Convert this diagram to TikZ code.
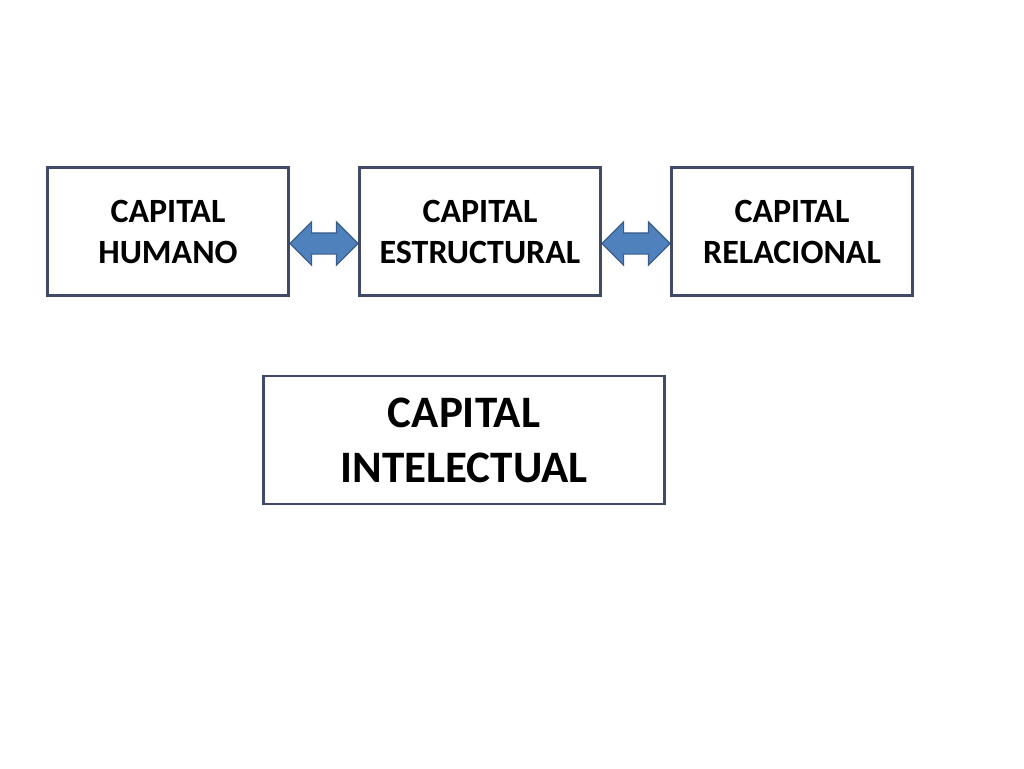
\documentclass[tikz,border=0pt]{standalone}
\usepackage{fontspec}
\setmainfont{Carlito}
\usetikzlibrary{shapes.arrows}
\usetikzlibrary{calc}
\definecolor{boxline}{HTML}{3E4A66}
\definecolor{arrowfill}{HTML}{4F81BD}
\definecolor{arrowline}{HTML}{385D8A}

\begin{document}
\begin{tikzpicture}
[x=1pt, y=-1pt,
 every node/.style={inner sep=0pt},
 capbox/.style={rectangle, draw=boxline, line width=2.5pt, fill=white, minimum width=241pt, minimum height=128pt, align=center, font=\fontsize{34}{41}\selectfont\bfseries},
 bigbox/.style={capbox, minimum width=401pt, font=\fontsize{45}{55}\selectfont\bfseries},
 twoway/.style={double arrow, fill=arrowfill, draw=arrowline, line width=1.2pt, inner xsep=0pt, inner ysep=10pt, double arrow head extend=11pt, minimum height=68pt}]
\useasboundingbox (0,0) rectangle (1024,768);
\node (humano) [capbox] at (168, 231.5) {CAPITAL\\HUMANO};
\node (estructural) [capbox] at (480, 231.5) {CAPITAL\\ESTRUCTURAL};
\node (relacional) [capbox] at (792, 231.5) {CAPITAL\\RELACIONAL};
\node (intelectual) [bigbox] at (464, 440) {CAPITAL\\INTELECTUAL};
\node (a1) [twoway] at ($(humano.east)!0.5!(estructural.west) + (0,12)$) {};
\node (a2) [twoway] at ($(estructural.east)!0.5!(relacional.west) + (0,12)$) {};
\end{tikzpicture}
\end{document}
